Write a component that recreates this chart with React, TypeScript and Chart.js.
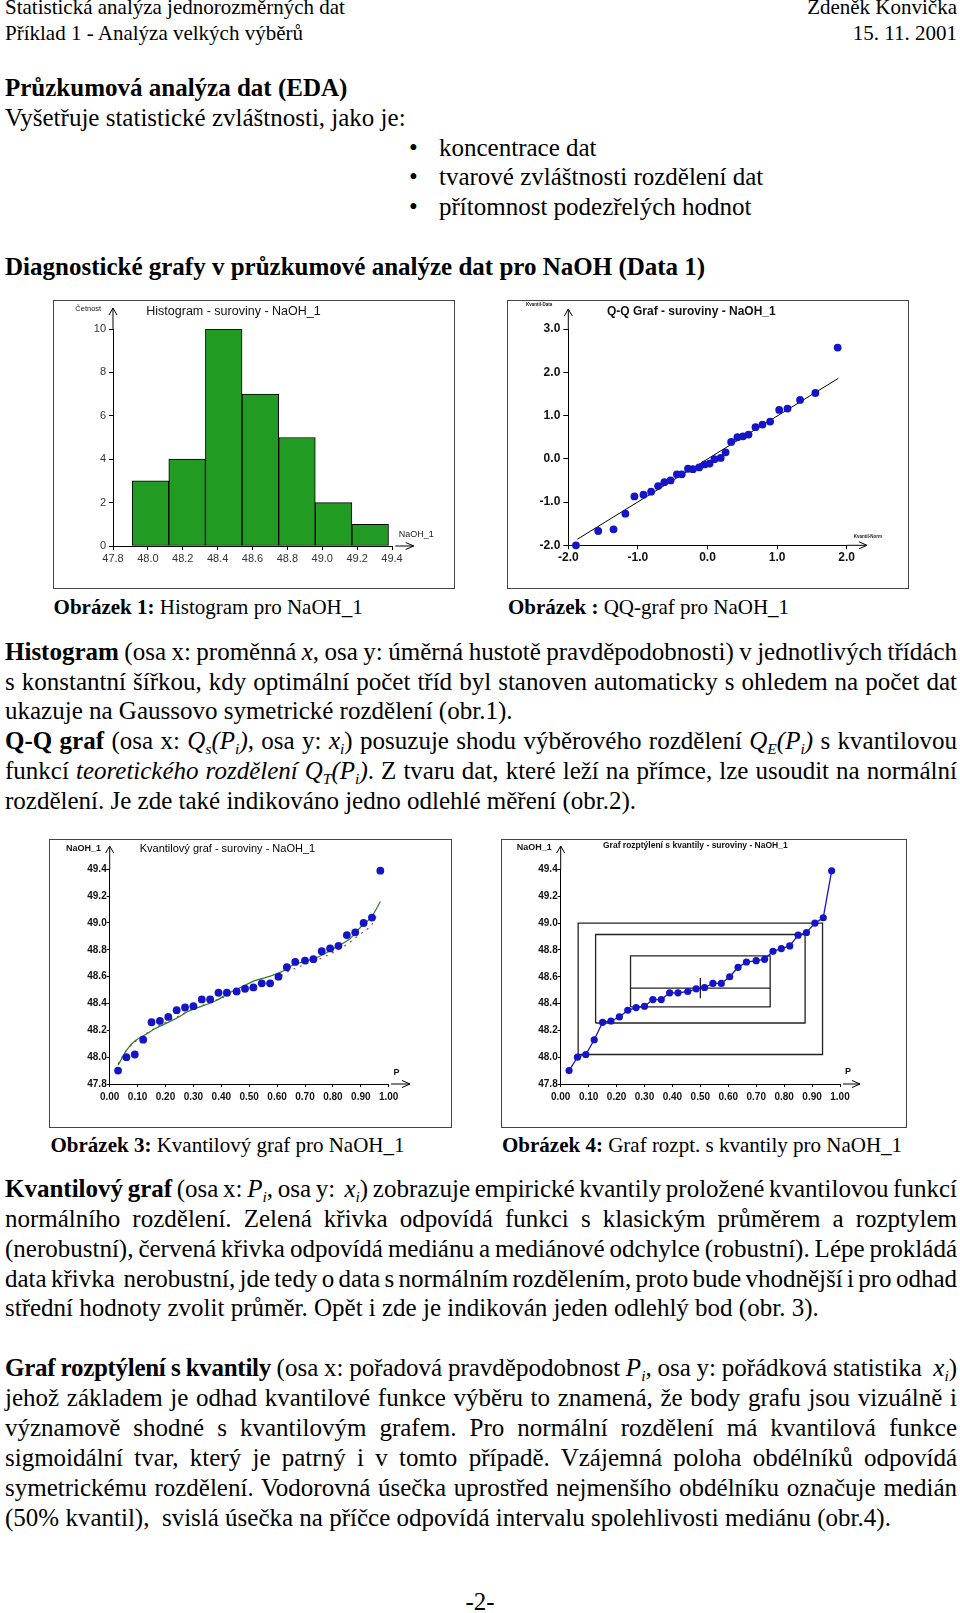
import React, { useEffect, useLayoutEffect, useRef } from "react";
import { Chart, registerables } from "chart.js";

Chart.register(...registerables);

const SANS = '"Liberation Sans", Arial, sans-serif';
const SERIF = '"Liberation Serif", "Times New Roman", serif';
Chart.defaults.font.family = SANS;

// ---------------- data ----------------
// Histogram (Obrázek 1)
const histBinEdges = [47.91, 48.12, 48.33, 48.54, 48.75, 48.96, 49.17, 49.38];
const histCounts = [3, 4, 10, 7, 5, 2, 1];
const histXRange = [47.8, 49.4];
const histXStep = 0.2;
const histYRange = [0, 10];
const histYStep = 2;

// Q-Q graph (Obrázek 2)
const qqNormQuantiles = [-1.89, -1.57, -1.35, -1.18, -1.05, -0.92, -0.81, -0.71, -0.62, -0.53, -0.44, -0.37, -0.28, -0.21, -0.12, -0.04, 0.03, 0.1, 0.19, 0.26, 0.34, 0.43, 0.51, 0.59, 0.69, 0.79, 0.9, 1.03, 1.15, 1.33, 1.55, 1.87];
const qqDataQuantiles = [-2.0, -1.67, -1.63, -1.27, -0.87, -0.83, -0.76, -0.63, -0.54, -0.5, -0.36, -0.36, -0.23, -0.24, -0.2, -0.13, -0.11, -0.01, 0.02, 0.15, 0.39, 0.5, 0.52, 0.56, 0.73, 0.79, 0.86, 1.13, 1.16, 1.36, 1.52, 2.57];
const qqLineX = [-1.87, 1.88];
const qqLineY = [-1.86, 1.86];
const qqXRange = [-2, 2];
const qqYRange = [-2, 3];

// Quantile graphs (Obrázek 3, 4)
const orderProb = [0.03, 0.06, 0.09, 0.12, 0.15, 0.18, 0.21, 0.24, 0.27, 0.3, 0.33, 0.36, 0.39, 0.42, 0.455, 0.485, 0.515, 0.545, 0.575, 0.605, 0.635, 0.665, 0.7, 0.73, 0.76, 0.79, 0.82, 0.85, 0.88, 0.91, 0.94, 0.97];
const naoh1 = [47.9, 48.0, 48.02, 48.13, 48.26, 48.27, 48.3, 48.35, 48.37, 48.38, 48.43, 48.43, 48.48, 48.48, 48.49, 48.51, 48.52, 48.55, 48.55, 48.6, 48.67, 48.71, 48.72, 48.73, 48.79, 48.81, 48.83, 48.91, 48.93, 49.0, 49.04, 49.39];
const greenP = [0.03, 0.06, 0.09, 0.13, 0.16, 0.2, 0.24, 0.28, 0.33, 0.38, 0.43, 0.47, 0.52, 0.57, 0.62, 0.66, 0.71, 0.76, 0.81, 0.86, 0.9, 0.94, 0.97];
const greenY = [47.94, 48.05, 48.12, 48.17, 48.21, 48.25, 48.29, 48.34, 48.38, 48.42, 48.48, 48.52, 48.57, 48.6, 48.64, 48.69, 48.72, 48.76, 48.82, 48.88, 48.97, 49.05, 49.16];
const redP = [0.03, 0.06, 0.1, 0.15, 0.2, 0.25, 0.3, 0.35, 0.4, 0.45, 0.5, 0.55, 0.6, 0.65, 0.7, 0.75, 0.8, 0.85, 0.9, 0.94, 0.96];
const redY = [47.95, 48.05, 48.13, 48.2, 48.26, 48.31, 48.36, 48.4, 48.44, 48.48, 48.515, 48.55, 48.59, 48.65, 48.69, 48.73, 48.78, 48.84, 48.92, 48.99, 49.07];
const qXRange = [0, 1];
const qYRange = [47.8, 49.4];
const rectP = [[0.0625, 0.9375], [0.125, 0.875], [0.25, 0.75]];
const rectY = [[48.02, 49.0], [48.255, 48.915], [48.375, 48.755]];
const medianP = [0.25, 0.75];
const medianY = 48.515;
const medianCiP = 0.5;
const medianCiY = [48.44, 48.59];

// ---------------- helpers ----------------
type TextItem = { text: string; x: number; y: number; font: string; color?: string };
type Decor = { yTop: number; xStart: number; xEnd: number; texts: TextItem[] };

function decorPlugin(d: Decor) {
  return {
    id: "decor",
    afterDraw(chart: any) {
      const { ctx, chartArea: a } = chart;
      ctx.save();
      ctx.strokeStyle = "#000";
      ctx.lineWidth = 1;
      ctx.beginPath();
      ctx.moveTo(a.left, a.top);
      ctx.lineTo(a.left, d.yTop);
      ctx.moveTo(a.left - 4, d.yTop + 7);
      ctx.lineTo(a.left, d.yTop);
      ctx.lineTo(a.left + 4, d.yTop + 7);
      ctx.moveTo(d.xStart, a.bottom);
      ctx.lineTo(d.xEnd, a.bottom);
      ctx.moveTo(d.xEnd - 8, a.bottom - 3.5);
      ctx.lineTo(d.xEnd, a.bottom);
      ctx.lineTo(d.xEnd - 8, a.bottom + 3.5);
      ctx.stroke();
      ctx.textAlign = "left";
      ctx.textBaseline = "middle";
      for (const t of d.texts) {
        ctx.font = t.font;
        ctx.fillStyle = t.color || "#000";
        ctx.fillText(t.text, t.x, t.y);
      }
      ctx.restore();
    },
  };
}

type AxisOpt = {
  pos: "left" | "bottom";
  range: number[];
  step: number;
  dec: number;
  size: number;
  bold?: boolean;
  color?: string;
  tick: number;
  pad: number;
  fit: number;
};

function linAxis(o: AxisOpt) {
  return {
    type: "linear",
    position: o.pos,
    min: o.range[0],
    max: o.range[1],
    offset: false,
    ticks: {
      stepSize: o.step,
      autoSkip: false,
      maxRotation: 0,
      minRotation: 0,
      padding: o.pad,
      color: o.color || "#000",
      font: { family: SANS, size: o.size, weight: o.bold ? "bold" : "normal" },
      callback: (v: any) => Number(v).toFixed(o.dec),
    },
    grid: {
      display: true,
      drawOnChartArea: false,
      drawTicks: true,
      tickLength: o.tick,
      color: "#000",
      lineWidth: 1,
      offset: false,
    },
    border: { display: true, color: "#000", width: 1 },
    afterFit: (s: any) => {
      if (o.pos === "left") s.width = o.fit;
      else s.height = o.fit;
    },
  };
}

function baseOptions(padTop: number, padRight: number) {
  return {
    animation: false,
    responsive: false,
    events: [],
    layout: { padding: { top: padTop, right: padRight, left: 0, bottom: 0 } },
    plugins: { legend: { display: false }, tooltip: { enabled: false }, title: { display: false } },
  };
}

// ---------------- chart configs ----------------
function histConfig(): any {
  const centers = histCounts.map((_, i) => (histBinEdges[i] + histBinEdges[i + 1]) / 2);
  return {
    type: "bar",
    data: {
      datasets: [
        {
          type: "bar",
          xAxisID: "xb",
          yAxisID: "y",
          data: histCounts.map((c, i) => ({ x: centers[i], y: c })),
          backgroundColor: "#219b21",
          borderColor: "#000",
          borderWidth: 1,
          borderSkipped: false,
          barPercentage: 1,
          categoryPercentage: 1,
          grouped: false,
        },
      ],
    },
    options: {
      ...baseOptions(28, 62),
      scales: {
        x: linAxis({ pos: "bottom", range: histXRange, step: histXStep, dec: 1, size: 11, color: "#333", tick: 4, pad: 2, fit: 42 }),
        xb: {
          type: "linear",
          position: "bottom",
          display: false,
          min: histXRange[0],
          max: histXRange[1],
          offset: false,
          afterBuildTicks: (s: any) => {
            s.ticks = [];
          },
        },
        y: linAxis({ pos: "left", range: histYRange, step: histYStep, dec: 0, size: 11, color: "#333", tick: 4, pad: 3, fit: 59 }),
      },
    },
    plugins: [
      decorPlugin({
        yTop: 7,
        xStart: 341.3,
        xEnd: 359.7,
        texts: [
          { text: "Histogram - suroviny - NaOH_1", x: 92.3, y: 10.7, font: `12.5px ${SANS}`, color: "#111" },
          { text: "Četnost", x: 21.3, y: 8, font: `7.5px ${SANS}`, color: "#222" },
          { text: "NaOH_1", x: 344.7, y: 233.3, font: `9px ${SANS}`, color: "#222" },
        ],
      }),
    ],
  };
}

function qqConfig(): any {
  return {
    type: "scatter",
    data: {
      datasets: [
        {
          data: qqNormQuantiles.map((x, i) => ({ x, y: qqDataQuantiles[i] })),
          pointRadius: 3.9,
          backgroundColor: "#1414c8",
          borderColor: "#1414c8",
          pointBorderWidth: 0,
          showLine: false,
          clip: false,
        },
        {
          type: "line",
          data: qqLineX.map((x, i) => ({ x, y: qqLineY[i] })),
          borderColor: "#000",
          borderWidth: 1,
          pointRadius: 0,
          fill: false,
          clip: false,
        },
      ],
    },
    options: {
      ...baseOptions(28, 61.3),
      scales: {
        x: linAxis({ pos: "bottom", range: qqXRange, step: 1, dec: 1, size: 12, bold: true, color: "#111", tick: 4, pad: 1, fit: 42.7 }),
        y: linAxis({ pos: "left", range: qqYRange, step: 1, dec: 1, size: 12, bold: true, color: "#111", tick: 5, pad: 3, fit: 60.3 }),
      },
    },
    plugins: [
      decorPlugin({
        yTop: 8,
        xStart: 338.7,
        xEnd: 359,
        texts: [
          { text: "Q-Q Graf - suroviny - NaOH_1", x: 99, y: 10.7, font: `bold 12px ${SANS}`, color: "#111" },
          { text: "Kvantil-Data", x: 18, y: 4, font: `bold 4.5px ${SANS}`, color: "#222" },
          { text: "Kvantil-Norm", x: 345.7, y: 236, font: `bold 4.5px ${SANS}`, color: "#222" },
        ],
      }),
    ],
  };
}

function quantileConfig(): any {
  return {
    type: "scatter",
    data: {
      datasets: [
        {
          data: orderProb.map((p, i) => ({ x: p, y: naoh1[i] })),
          pointRadius: 3.9,
          backgroundColor: "#1414c8",
          borderColor: "#1414c8",
          pointBorderWidth: 0,
          showLine: false,
          clip: false,
        },
        {
          type: "line",
          data: greenP.map((p, i) => ({ x: p, y: greenY[i] })),
          borderColor: "#2e7d2e",
          borderWidth: 1.2,
          pointRadius: 0,
          cubicInterpolationMode: "monotone",
          fill: false,
          clip: false,
        },
        {
          type: "line",
          data: redP.map((p, i) => ({ x: p, y: redY[i] })),
          borderColor: "#b83030",
          borderWidth: 1.1,
          borderDash: [2, 5],
          pointRadius: 0,
          cubicInterpolationMode: "monotone",
          fill: false,
          clip: false,
        },
      ],
    },
    options: {
      ...baseOptions(29.3, 62.3),
      scales: {
        x: linAxis({ pos: "bottom", range: qXRange, step: 0.1, dec: 2, size: 10, bold: true, color: "#111", tick: 3, pad: 4, fit: 43 }),
        y: linAxis({ pos: "left", range: qYRange, step: 0.2, dec: 1, size: 10, bold: true, color: "#111", tick: 3, pad: 0, fit: 59.7 }),
      },
    },
    plugins: [
      decorPlugin({
        yTop: 6,
        xStart: 341,
        xEnd: 360,
        texts: [
          { text: "Kvantilový graf - suroviny - NaOH_1", x: 89.7, y: 8.7, font: `11px ${SANS}`, color: "#000" },
          { text: "NaOH_1", x: 16, y: 9, font: `bold 9px ${SANS}`, color: "#111" },
          { text: "P", x: 343.5, y: 233, font: `bold 9px ${SANS}`, color: "#111" },
        ],
      }),
    ],
  };
}

function scatterQuantConfig(): any {
  const rects = rectP.map((p, i) => ({
    type: "line",
    data: [
      { x: p[0], y: rectY[i][0] },
      { x: p[1], y: rectY[i][0] },
      { x: p[1], y: rectY[i][1] },
      { x: p[0], y: rectY[i][1] },
      { x: p[0], y: rectY[i][0] },
    ],
    borderColor: "#222",
    borderWidth: 1.3,
    pointRadius: 0,
    tension: 0,
    fill: false,
    clip: false,
  }));
  return {
    type: "scatter",
    data: {
      datasets: [
        {
          data: orderProb.map((p, i) => ({ x: p, y: naoh1[i] })),
          pointRadius: 3.6,
          backgroundColor: "#1414c8",
          borderColor: "#1414c8",
          pointBorderWidth: 0,
          showLine: true,
          borderWidth: 1.3,
          clip: false,
        },
        ...rects,
        {
          type: "line",
          data: medianP.map((p) => ({ x: p, y: medianY })),
          borderColor: "#222",
          borderWidth: 1.3,
          pointRadius: 0,
          fill: false,
        },
        {
          type: "line",
          data: medianCiY.map((y) => ({ x: medianCiP, y })),
          borderColor: "#222",
          borderWidth: 1.3,
          pointRadius: 0,
          fill: false,
        },
      ],
    },
    options: {
      ...baseOptions(29.5, 66),
      scales: {
        x: linAxis({ pos: "bottom", range: qXRange, step: 0.1, dec: 2, size: 10, bold: true, color: "#111", tick: 3, pad: 4, fit: 43 }),
        y: linAxis({ pos: "left", range: qYRange, step: 0.2, dec: 1, size: 10, bold: true, color: "#111", tick: 3, pad: 0, fit: 58.7 }),
      },
    },
    plugins: [
      decorPlugin({
        yTop: 6,
        xStart: 341,
        xEnd: 358,
        texts: [
          { text: "Graf rozptýlení s kvantily - suroviny - NaOH_1", x: 101, y: 6, font: `bold 8.5px ${SANS}`, color: "#111" },
          { text: "NaOH_1", x: 14.7, y: 8, font: `bold 9px ${SANS}`, color: "#111" },
          { text: "P", x: 343, y: 232, font: `bold 9px ${SANS}`, color: "#111" },
        ],
      }),
    ],
  };
}

// ---------------- components ----------------
type Box = { x: number; y: number; w: number; h: number };

function ChartBox({ box, build }: { box: Box; build: () => any }) {
  const ref = useRef<HTMLCanvasElement>(null);
  useEffect(() => {
    const chart = new Chart(ref.current as HTMLCanvasElement, build());
    return () => chart.destroy();
  }, []);
  const w = box.w - 2;
  const h = box.h - 2;
  return (
    <div
      style={{
        position: "absolute",
        left: box.x,
        top: box.y,
        width: box.w,
        height: box.h,
        border: "1px solid #454545",
        boxSizing: "border-box",
        background: "#fff",
      }}
    >
      <canvas ref={ref} width={w} height={h} style={{ display: "block", width: w, height: h }} />
    </div>
  );
}

function Sub({ children }: { children: any }) {
  return <sub style={{ fontSize: "0.62em", verticalAlign: "-0.3em", lineHeight: 0 }}>{children}</sub>;
}

function topFor(b: number, size: number, lh: number) {
  return b - ((lh - 1.107 * size) / 2 + 0.891 * size);
}

type LineProps = {
  b: number;
  size?: number;
  lh?: number;
  left?: number;
  bold?: boolean;
  right?: number;
  center?: boolean;
  children: any;
};

function TL({ b, size = 25, lh = 30, left = 5, bold = false, right, center, children }: LineProps) {
  const style: any = {
    position: "absolute",
    top: topFor(b, size, lh),
    fontSize: size,
    lineHeight: lh + "px",
    fontFamily: SERIF,
    fontWeight: bold ? "bold" : "normal",
    color: "#000",
    whiteSpace: "nowrap",
  };
  if (right !== undefined) {
    style.right = right;
    style.textAlign = "right";
  } else if (center) {
    style.left = 0;
    style.width = 960;
    style.textAlign = "center";
  } else {
    style.left = left;
  }
  return <div style={style}>{children}</div>;
}

// justified line: word spacing is set so that the line fills exactly `width`
function JL({ b, size = 25, lh = 30, left = 5, width = 952, children }: { b: number; size?: number; lh?: number; left?: number; width?: number; children: any }) {
  const ref = useRef<HTMLSpanElement>(null);
  useLayoutEffect(() => {
    const apply = () => {
      const el = ref.current;
      if (!el) return;
      el.style.wordSpacing = "0px";
      const natural = el.getBoundingClientRect().width;
      const spaces = ((el.textContent || "").match(/[ \u00a0]/g) || []).length;
      if (spaces > 0) el.style.wordSpacing = (width - natural) / spaces + "px";
    };
    apply();
    const f: any = (document as any).fonts;
    if (f && f.ready) f.ready.then(apply);
  }, []);
  return (
    <div
      style={{
        position: "absolute",
        left,
        top: topFor(b, size, lh),
        fontSize: size,
        lineHeight: lh + "px",
        fontFamily: SERIF,
        color: "#000",
        whiteSpace: "nowrap",
      }}
    >
      <span ref={ref} style={{ whiteSpace: "nowrap" }}>
        {children}
      </span>
    </div>
  );
}

const box1: Box = { x: 53, y: 300, w: 402, h: 289 };
const box2: Box = { x: 507, y: 300, w: 402, h: 289 };
const box3: Box = { x: 49, y: 839, w: 403, h: 289 };
const box4: Box = { x: 501, y: 839, w: 406, h: 289 };

export default function App() {
  return (
    <div
      style={{
        position: "absolute",
        left: 0,
        top: 0,
        width: 960,
        height: 1613,
        overflow: "hidden",
        background: "#fff",
        fontFamily: SERIF,
      }}
    >
      <TL b={15} size={21} lh={25}>Statistická analýza jednorozměrných dat</TL>
      <TL b={15} size={21} lh={25} right={3}>Zdeněk Konvička</TL>
      <TL b={40.3} size={21} lh={25}>Příklad 1 - Analýza velkých výběrů</TL>
      <TL b={40.3} size={21} lh={25} right={3}>15. 11. 2001</TL>

      <TL b={96.2} bold>Průzkumová analýza dat (EDA)</TL>
      <TL b={126.1}>Vyšetřuje statistické zvláštnosti, jako je:</TL>
      <TL b={156} left={409}>•</TL>
      <TL b={156} left={439}>koncentrace dat</TL>
      <TL b={185.9} left={409}>•</TL>
      <TL b={185.9} left={439}>tvarové zvláštnosti rozdělení dat</TL>
      <TL b={215.8} left={409}>•</TL>
      <TL b={215.8} left={439}>přítomnost podezřelých hodnot</TL>

      <TL b={275.6} bold>Diagnostické grafy v průzkumové analýze dat pro NaOH (Data 1)</TL>

      <ChartBox box={box1} build={histConfig} />
      <ChartBox box={box2} build={qqConfig} />

      <TL b={614.1} size={21} lh={25} left={53.6}>
        <b>Obrázek 1:</b> Histogram pro NaOH_1
      </TL>
      <TL b={614.1} size={21} lh={25} left={508}>
        <b>Obrázek :</b> QQ-graf pro NaOH_1
      </TL>

      <JL b={660.1}>
        <b>Histogram</b> (osa x: proměnná <i>x</i>, osa y: úměrná hustotě pravděpodobnosti) v jednotlivých třídách
      </JL>
      <JL b={690.1}>s konstantní šířkou, kdy optimální počet tříd byl stanoven automaticky s ohledem na počet dat</JL>
      <TL b={719.9}>ukazuje na Gaussovo symetrické rozdělení (obr.1).</TL>
      <JL b={749.9}>
        <b>Q-Q graf</b> (osa x: <i>Q<Sub>s</Sub>(P<Sub>i</Sub>)</i>, osa y: <i>x<Sub>i</Sub></i>) posuzuje shodu výběrového rozdělení{" "}
        <i>Q<Sub>E</Sub>(P<Sub>i</Sub>)</i> s kvantilovou
      </JL>
      <JL b={779.7}>
        funkcí <i>teoretického rozdělení Q<Sub>T</Sub>(P<Sub>i</Sub>)</i>. Z tvaru dat, které leží na přímce, lze usoudit na normální
      </JL>
      <TL b={809.5}>rozdělení. Je zde také indikováno jedno odlehlé měření (obr.2).</TL>

      <ChartBox box={box3} build={quantileConfig} />
      <ChartBox box={box4} build={scatterQuantConfig} />

      <TL b={1152.6} size={21} lh={25} left={50.5}>
        <b>Obrázek 3:</b> Kvantilový graf pro NaOH_1
      </TL>
      <TL b={1152.6} size={21} lh={25} left={502}>
        <b>Obrázek 4:</b> Graf rozpt. s kvantily pro NaOH_1
      </TL>

      <JL b={1197.5}>
        <b>Kvantilový graf</b> (osa x: <i>P<Sub>i</Sub></i>, osa y: &nbsp;<i>x<Sub>i</Sub></i>) zobrazuje empirické kvantily proložené kvantilovou funkcí
      </JL>
      <JL b={1227.1}>normálního rozdělení. Zelená křivka odpovídá funkci s klasickým průměrem a rozptylem</JL>
      <JL b={1257.1}>(nerobustní), červená křivka odpovídá mediánu a mediánové odchylce (robustní). Lépe prokládá</JL>
      <JL b={1287.1}>data křivka &nbsp;nerobustní, jde tedy o data s normálním rozdělením, proto bude vhodnější i pro odhad</JL>
      <TL b={1316.9}>střední hodnoty zvolit průměr. Opět i zde je indikován jeden odlehlý bod (obr. 3).</TL>

      <JL b={1376.5}>
        <b style={{ letterSpacing: "-0.3px" }}>Graf rozptýlení s kvantily</b> (osa x: pořadová pravděpodobnost <i>P<Sub>i</Sub></i>, osa y: pořádková statistika &nbsp;<i>x<Sub>i</Sub></i>)
      </JL>
      <JL b={1406.5}>jehož základem je odhad kvantilové funkce výběru to znamená, že body grafu jsou vizuálně i</JL>
      <JL b={1436.5}>významově shodné s kvantilovým grafem. Pro normální rozdělení má kvantilová funkce</JL>
      <JL b={1466.5}>sigmoidální tvar, který je patrný i v tomto případě. Vzájemná poloha obdélníků odpovídá</JL>
      <JL b={1496.5}>symetrickému rozdělení. Vodorovná úsečka uprostřed nejmenšího obdélníku označuje medián</JL>
      <TL b={1526.1}>(50% kvantil), &nbsp;svislá úsečka na příčce odpovídá intervalu spolehlivosti mediánu (obr.4).</TL>

      <TL b={1610} center>
        -2-
      </TL>
    </div>
  );
}
